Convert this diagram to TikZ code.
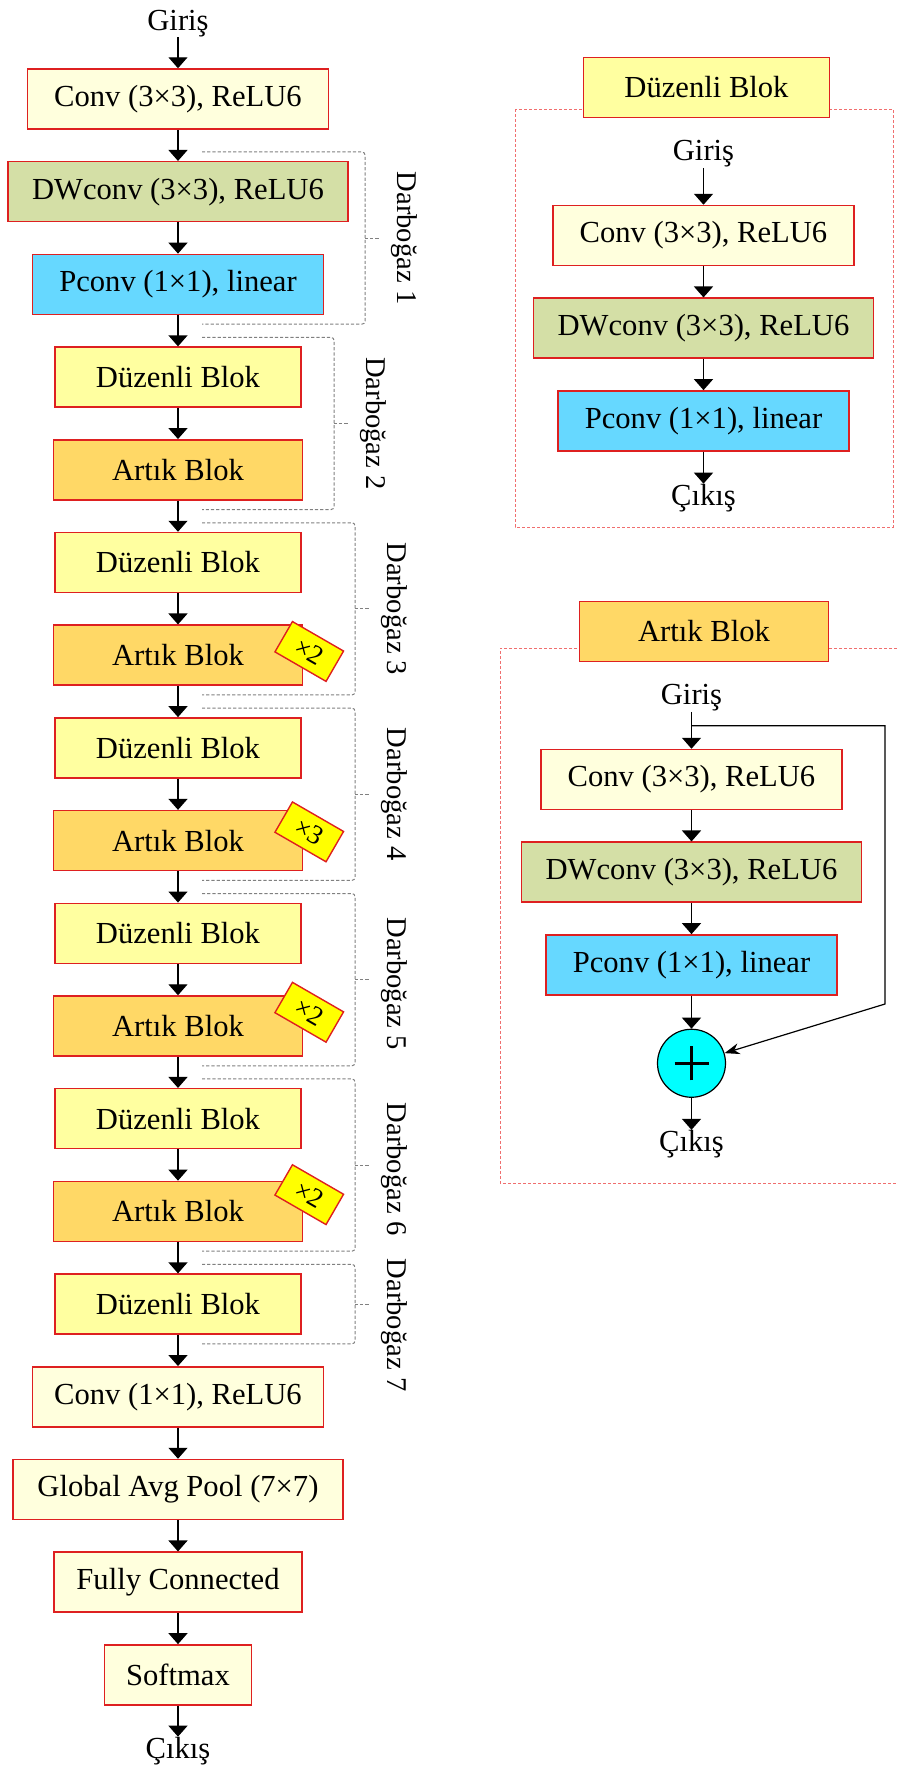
\documentclass[tikz,border=0pt]{standalone}
\usepackage{fontspec}
\setmainfont{Liberation Serif}
\usetikzlibrary{positioning, arrows.meta, calc}

\definecolor{bordo}{RGB}{222,32,32}
\definecolor{krem}{RGB}{255,255,221}
\definecolor{zeytin}{RGB}{212,223,166}
\definecolor{mavi}{RGB}{102,216,255}
\definecolor{sari}{RGB}{255,255,160}
\definecolor{turuncu}{RGB}{255,216,102}
\definecolor{limon}{RGB}{255,255,0}
\definecolor{camgobegi}{RGB}{0,255,255}
\definecolor{panelrengi}{RGB}{240,110,110}

\tikzset{
  katman/.style={draw=bordo, line width=0.75pt, minimum height=30pt, inner sep=0pt,
                 font=\fontsize{15.3}{18}\selectfont},
  convbox/.style={katman, fill=krem, minimum width=150.5pt},
  dwbox/.style={katman, fill=zeytin, minimum width=170pt},
  pbox/.style={katman, fill=mavi, minimum width=145.5pt},
  duzbox/.style={katman, fill=sari, minimum width=123pt},
  artbox/.style={katman, fill=turuncu, minimum width=124.5pt},
  metin/.style={inner sep=0pt, font=\fontsize{15.3}{18}\selectfont},
  tekrar/.style={draw=bordo, fill=limon, line width=0.7pt, rotate=-30, inner sep=0pt,
                 minimum width=29.5pt, minimum height=17.5pt, font=\fontsize{13.5}{15}\selectfont},
  toplam/.style={circle, draw, fill=camgobegi, line width=0.6pt, minimum size=34pt,
                 path picture={\draw[line width=1.6pt]
                   ([xshift=-8.5pt]path picture bounding box.center) -- ([xshift=8.5pt]path picture bounding box.center)
                   ([yshift=-8.5pt]path picture bounding box.center) -- ([yshift=8.5pt]path picture bounding box.center);}},
  ok/.style={-{Triangle[width=9.5pt,length=5.5pt]}, line width=0.7pt},
  darbo/.style={draw=gray, line width=0.5pt, dash pattern=on 1.6pt off 1pt, rounded corners=1.5pt},
  darboyazi/.style={rotate=-90, inner sep=0pt, font=\fontsize{14.3}{16}\selectfont},
  panel/.style={draw=panelrengi, line width=0.5pt, dash pattern=on 1.5pt off 1pt}
}

\begin{document}
\begin{tikzpicture}[x=0.5pt, y=0.5pt, node distance=15.6pt]
        \useasboundingbox (0,0) rectangle (897,-1785);

        % ana ag
        \node[convbox] (c1) at (178,-99) {Conv (3×3), ReLU6};
        \node[metin] (giris) [above=15.5pt of c1] {Giriş};
        \node[dwbox] (dw1) [below=of c1] {DWconv (3×3), ReLU6};
        \node[pbox] (pc1) [below=of dw1] {Pconv (1×1), linear};
        \node[duzbox] (dz1) [below=of pc1] {Düzenli Blok};
        \node[artbox] (ab1) [below=of dz1] {Artık Blok};
        \node[duzbox] (dz2) [below=of ab1] {Düzenli Blok};
        \node[artbox] (ab2) [below=of dz2] {Artık Blok};
        \node[duzbox] (dz3) [below=of ab2] {Düzenli Blok};
        \node[artbox] (ab3) [below=of dz3] {Artık Blok};
        \node[duzbox] (dz4) [below=of ab3] {Düzenli Blok};
        \node[artbox] (ab4) [below=of dz4] {Artık Blok};
        \node[duzbox] (dz5) [below=of ab4] {Düzenli Blok};
        \node[artbox] (ab5) [below=of dz5] {Artık Blok};
        \node[duzbox] (dz6) [below=of ab5] {Düzenli Blok};
        \node[convbox, minimum width=145.5pt] (c2) [below=of dz6] {Conv (1×1), ReLU6};
        \node[convbox, minimum width=165pt] (gap) [below=of c2] {Global Avg Pool (7×7)};
        \node[convbox, minimum width=124pt] (fc) [below=of gap] {Fully Connected};
        \node[convbox, minimum width=73.5pt] (sm) [below=of fc] {Softmax};
        \node[metin] (cikis) [below=15.5pt of sm] {Çıkış};

        \foreach \a/\b in {giris/c1, c1/dw1, dw1/pc1, pc1/dz1, dz1/ab1, ab1/dz2, dz2/ab2,
                           ab2/dz3, dz3/ab3, ab3/dz4, dz4/ab4, ab4/dz5, dz5/ab5, ab5/dz6,
                           dz6/c2, c2/gap, gap/fc, fc/sm, sm/cikis}
            \draw[ok] (\a) -- (\b);

        % tekrar sayilari
        \node[tekrar] (t2) at ([xshift=3pt,yshift=-13.5pt]ab2.north east) {×2};
        \node[tekrar] (t3) at ([xshift=3pt,yshift=-11pt]ab3.north east) {×3};
        \node[tekrar] (t4) at ([xshift=3pt,yshift=-8.5pt]ab4.north east) {×2};
        \node[tekrar] (t5) at ([xshift=3pt,yshift=-7pt]ab5.north east) {×2};

        % darbogazlar
        \foreach \ilk/\son/\sag/\ad/\kay in {dw1/pc1/365/1/0, dz1/ab1/334/2/0, dz2/ab2/355/3/0, dz3/ab3/355/4/0,
                                           dz4/ab4/355/5/-2, dz5/ab5/355/6/-2, dz6/dz6/355/7/-10.5}{
            \path (\ilk.north) ++(0,4.5pt) coordinate (ust);
            \path (\son.south) ++(0,-4.5pt) coordinate (alt);
            \draw[darbo] (ust -| 202,0) -- (ust -| \sag,0) -- coordinate (orta) (alt -| \sag,0) -- (alt -| 202,0);
            \draw[darbo] (orta) -- ++(7pt,0);
            \node[darboyazi] at ([xshift=19.5pt,yshift=\kay pt]orta) {Darboğaz \ad};
        }

        % duzenli blok
        \draw[panel] (515,-109) rectangle (893,-527);
        \node[duzbox] (dbaslik) at (706.5,-87.5) {Düzenli Blok};
        \node[convbox] (dc1) at (703.5,-235.5) {Conv (3×3), ReLU6};
        \node[metin] (dgiris) [above=18.5pt of dc1] {Giriş};
        \node[dwbox] (ddw) [below=of dc1] {DWconv (3×3), ReLU6};
        \node[pbox] (dpc) [below=of ddw] {Pconv (1×1), linear};
        \node[metin] (dcikis) [below=16pt of dpc] {Çıkış};
        \foreach \a/\b in {dgiris/dc1, dc1/ddw, ddw/dpc, dpc/dcikis}
            \draw[ok] (\a) -- (\b);

        % artik blok
        \draw[panel] (897,-648) -- (500,-648) -- (500,-1183) -- (897,-1183);
        \node[artbox] (abaslik) at (704,-631.5) {Artık Blok};
        \node[convbox] (ac1) at (691.5,-779.5) {Conv (3×3), ReLU6};
        \node[metin] (agiris) [above=18.5pt of ac1] {Giriş};
        \node[dwbox] (adw) [below=of ac1] {DWconv (3×3), ReLU6};
        \node[pbox] (apc) [below=of adw] {Pconv (1×1), linear};
        \node[toplam] (arti) [below=16.5pt of apc] {};
        \node[metin] (acikis) [below=16pt of arti] {Çıkış};
        \foreach \a/\b in {agiris/ac1, ac1/adw, adw/apc, apc/arti, arti/acikis}
            \draw[ok] (\a) -- (\b);
        \coordinate (dal) at ([yshift=11.5pt]ac1.north);
        \coordinate (kose) at (885,-1004);
        \draw[line width=0.6pt, -{Stealth[width=5.5pt,length=7.5pt]}] (dal) -| (kose) -- (arti);
\end{tikzpicture}
\end{document}
